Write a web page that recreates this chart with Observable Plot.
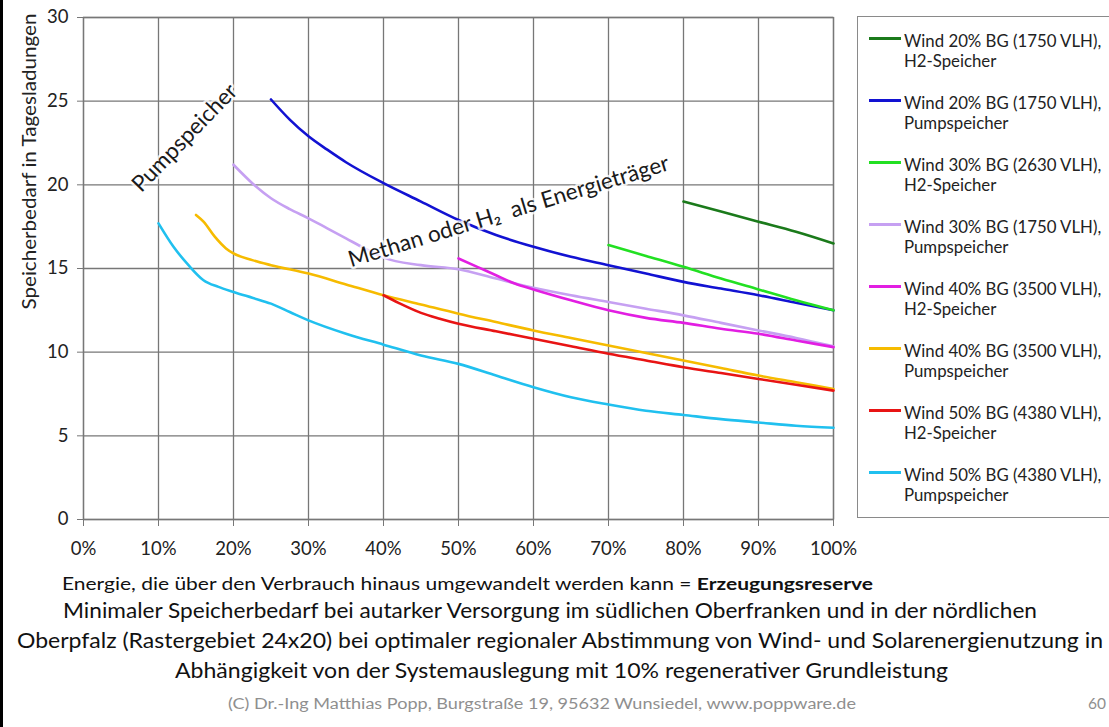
<!DOCTYPE html>
<html><head><meta charset="utf-8">
<script src="https://cdn.jsdelivr.net/npm/d3@7"></script>
<script src="https://cdn.jsdelivr.net/npm/@observablehq/plot@0.6"></script>
<style>
html,body{margin:0;padding:0;background:#fff;overflow:hidden;}
#root{position:relative;width:1109px;height:727px;font-family:Lato,"Open Sans",sans-serif;color:#222;}
#edge{position:absolute;left:0;top:0;width:3px;height:727px;background:#000;}
#chart{position:absolute;left:0;top:0;}
#legend{position:absolute;left:857px;top:16px;width:270px;height:502px;border:1.5px solid #8a8a8a;box-sizing:border-box;background:#fff;}
.item{position:absolute;left:0;width:260px;}
.sw{position:absolute;left:11px;width:32px;height:2.6px;}
.lt{position:absolute;left:46px;font-size:16.8px;line-height:20px;white-space:nowrap;color:#222;}
#cap{position:absolute;left:0;top:0;}
</style></head>
<body><div id="root"><div id="chart"></div><div id="legend"></div><svg id="cap" width="1109" height="727"></svg><div id="edge"></div></div>
<script>
// ---------- data ----------
const xTicks = [0, 10, 20, 30, 40, 50, 60, 70, 80, 90, 100];
const yTicks = [0, 5, 10, 15, 20, 25, 30];
const seriesNames = [
  "Wind 20% BG (1750 VLH), H2-Speicher",
  "Wind 20% BG (1750 VLH), Pumpspeicher",
  "Wind 30% BG (2630 VLH), H2-Speicher",
  "Wind 30% BG (1750 VLH), Pumpspeicher",
  "Wind 40% BG (3500 VLH), H2-Speicher",
  "Wind 40% BG (3500 VLH), Pumpspeicher",
  "Wind 50% BG (4380 VLH), H2-Speicher",
  "Wind 50% BG (4380 VLH), Pumpspeicher"
];
const seriesColors = ["#1b7a1b", "#1212d2", "#22e022", "#c6a0f2", "#e21ee2", "#f6bb00", "#e81414", "#20c0ef"];

const xW20H2 = [80, 85, 90, 95, 100];
const yW20H2 = [19.0, 18.4, 17.8, 17.2, 16.5];

const xW20PS = [25, 27.5, 30, 32.5, 35, 40, 45, 50, 55, 60, 65, 70, 75, 80, 85, 90, 95, 100];
const yW20PS = [25.1, 23.9, 22.9, 22.1, 21.35, 20.1, 19.0, 17.9, 17.0, 16.3, 15.7, 15.2, 14.7, 14.2, 13.8, 13.4, 12.95, 12.5];

const xW30H2 = [70, 75, 80, 85, 90, 95, 100];
const yW30H2 = [16.4, 15.75, 15.1, 14.4, 13.75, 13.1, 12.5];

const xW30PS = [20, 22.5, 25, 27.5, 30, 32.5, 35, 37.5, 40, 45, 50, 55, 60, 65, 70, 75, 80, 85, 90, 95, 100];
const yW30PS = [21.2, 20.1, 19.2, 18.55, 18.0, 17.4, 16.8, 16.2, 15.65, 15.2, 14.95, 14.4, 13.85, 13.4, 13.0, 12.6, 12.2, 11.75, 11.3, 10.85, 10.35];

const xW40H2 = [50, 52.5, 55, 57.5, 60, 65, 70, 75, 80, 85, 90, 95, 100];
const yW40H2 = [15.6, 15.1, 14.6, 14.1, 13.75, 13.1, 12.5, 12.05, 11.75, 11.4, 11.1, 10.7, 10.3];

const xW40PS = [15, 16, 17.5, 19, 20, 22.5, 25, 30, 35, 40, 45, 50, 55, 60, 65, 70, 75, 80, 85, 90, 95, 100];
const yW40PS = [18.2, 17.8, 16.9, 16.2, 15.9, 15.5, 15.2, 14.7, 14.05, 13.4, 12.85, 12.3, 11.8, 11.3, 10.85, 10.4, 9.95, 9.5, 9.05, 8.6, 8.2, 7.8];

const xW50H2 = [40, 42, 45, 47.5, 50, 55, 60, 65, 70, 75, 80, 85, 90, 95, 100];
const yW50H2 = [13.4, 12.95, 12.35, 12.0, 11.7, 11.25, 10.8, 10.35, 9.9, 9.5, 9.1, 8.75, 8.4, 8.05, 7.7];

const xW50PS = [10, 12, 14, 16, 18, 20, 22.5, 25, 27.5, 30, 35, 40, 45, 50, 55, 60, 65, 70, 75, 80, 85, 90, 95, 100];
const yW50PS = [17.7, 16.3, 15.2, 14.3, 13.9, 13.6, 13.25, 12.9, 12.4, 11.9, 11.1, 10.45, 9.8, 9.3, 8.6, 7.9, 7.3, 6.87, 6.5, 6.25, 6.0, 5.8, 5.6, 5.48];

const annotationLabels = ["Pumpspeicher", "Methan oder H\u2082  als Energietr\u00e4ger"];
const annotationX = [13.5, 56.7];
const annotationY = [22.8, 18.4];
const annotationAngle = [-46, -17];

const yLabel = "Speicherbedarf in Tagesladungen";
const xLabelPlain = "Energie, die \u00fcber den Verbrauch hinaus umgewandelt werden kann = ";
const xLabelBold = "Erzeugungsreserve";
const captionLines = [
  "Minimaler Speicherbedarf bei autarker Versorgung im s\u00fcdlichen Oberfranken und in der n\u00f6rdlichen",
  "Oberpfalz (Rastergebiet 24x20) bei optimaler regionaler Abstimmung von Wind- und Solarenergienutzung in",
  "Abh\u00e4ngigkeit von der Systemauslegung mit 10% regenerativer Grundleistung"
];
const footerText = "(C) Dr.-Ing Matthias Popp, Burgstra\u00dfe 19, 95632 Wunsiedel, www.poppware.de";
const pageNumber = "60";

// ---------- build ----------
const seriesX = [xW20H2, xW20PS, xW30H2, xW30PS, xW40H2, xW40PS, xW50H2, xW50PS];
const seriesY = [yW20H2, yW20PS, yW30H2, yW30PS, yW40H2, yW40PS, yW50H2, yW50PS];
const rows = [];
seriesNames.forEach((name, i) => seriesX[i].forEach((x, j) => rows.push({name, x, y: seriesY[i][j]})));
const annotations = annotationLabels.map((t, i) => ({t, x: annotationX[i], y: annotationY[i], r: annotationAngle[i]}));

const gridColor = "#777777";
const chart = Plot.plot({
  width: 850, height: 566,
  marginLeft: 83, marginRight: 17, marginTop: 17, marginBottom: 47,
  style: {fontFamily: "Lato, sans-serif", fontSize: "18px", color: "#222", background: "transparent", overflow: "visible"},
  x: {domain: [0, 100]},
  y: {domain: [0, 30]},
  color: {domain: seriesNames, range: seriesColors},
  marks: [
    Plot.gridX(xTicks, {stroke: gridColor, strokeOpacity: 1, strokeWidth: 1.3}),
    Plot.gridY(yTicks, {stroke: gridColor, strokeOpacity: 1, strokeWidth: 1.3}),
    Plot.frame({stroke: gridColor, strokeWidth: 1.3}),
    Plot.axisX(xTicks, {tickSize: 7, tickPadding: 15, tickFormat: d => d + "%", label: null, stroke: gridColor, fontSize: 18.5}),
    Plot.axisY(yTicks, {tickSize: 6, tickPadding: 9, label: null, stroke: gridColor, fontSize: 18.5}),
    Plot.line(rows, {x: "x", y: "y", z: "name", stroke: "name", strokeWidth: 2.6, curve: "monotone-x"}),
    Plot.text(annotations, {x: "x", y: "y", text: "t", rotate: "r", fontSize: 22.5, fill: "#1a1a1a",
      stroke: "white", strokeWidth: 5, strokeOpacity: 0.75}),
    Plot.text([yLabel], {frameAnchor: "top-left", textAnchor: "middle", dx: -61, dy: 144, rotate: -90, fontSize: 18.5, fill: "#222"})
  ]
});
document.getElementById("chart").appendChild(chart);
// stretch the y-axis title to the reference length
d3.select(chart).selectAll("text").filter(function () { return this.textContent === yLabel; })
  .attr("textLength", 296).attr("lengthAdjust", "spacingAndGlyphs");

// legend
const legend = document.getElementById("legend");
seriesNames.forEach((name, i) => {
  const [a, b] = name.split(", ");
  const top = 14 + 62 * i;
  const it = document.createElement("div");
  it.className = "item";
  it.style.top = top + "px";
  it.innerHTML = `<div class="sw" style="top:6px;background:${seriesColors[i]}"></div><div class="lt">${a},<br>${b}</div>`;
  legend.appendChild(it);
});

// captions
const cap = d3.select("#cap");
const t0 = cap.append("text").attr("x", 62).attr("y", 590).attr("font-size", 17).attr("fill", "#111")
  .attr("textLength", 811).attr("lengthAdjust", "spacingAndGlyphs");
t0.append("tspan").text(xLabelPlain);
t0.append("tspan").attr("font-weight", "bold").text(xLabelBold);
const capX = [63, 17, 175], capW = [974, 1086, 773], capY = [618, 648, 678];
captionLines.forEach((s, i) => cap.append("text").attr("x", capX[i]).attr("y", capY[i]).attr("font-size", 21.5)
  .attr("fill", "#111").attr("textLength", capW[i]).attr("lengthAdjust", "spacingAndGlyphs").text(s));
cap.append("text").attr("x", 228).attr("y", 709).attr("font-size", 15.5).attr("fill", "#8f8f8f")
  .attr("textLength", 628).attr("lengthAdjust", "spacingAndGlyphs").text(footerText);
cap.append("text").attr("x", 1088).attr("y", 709).attr("font-size", 15.5).attr("fill", "#8f8f8f").text(pageNumber);
</script></body></html>
